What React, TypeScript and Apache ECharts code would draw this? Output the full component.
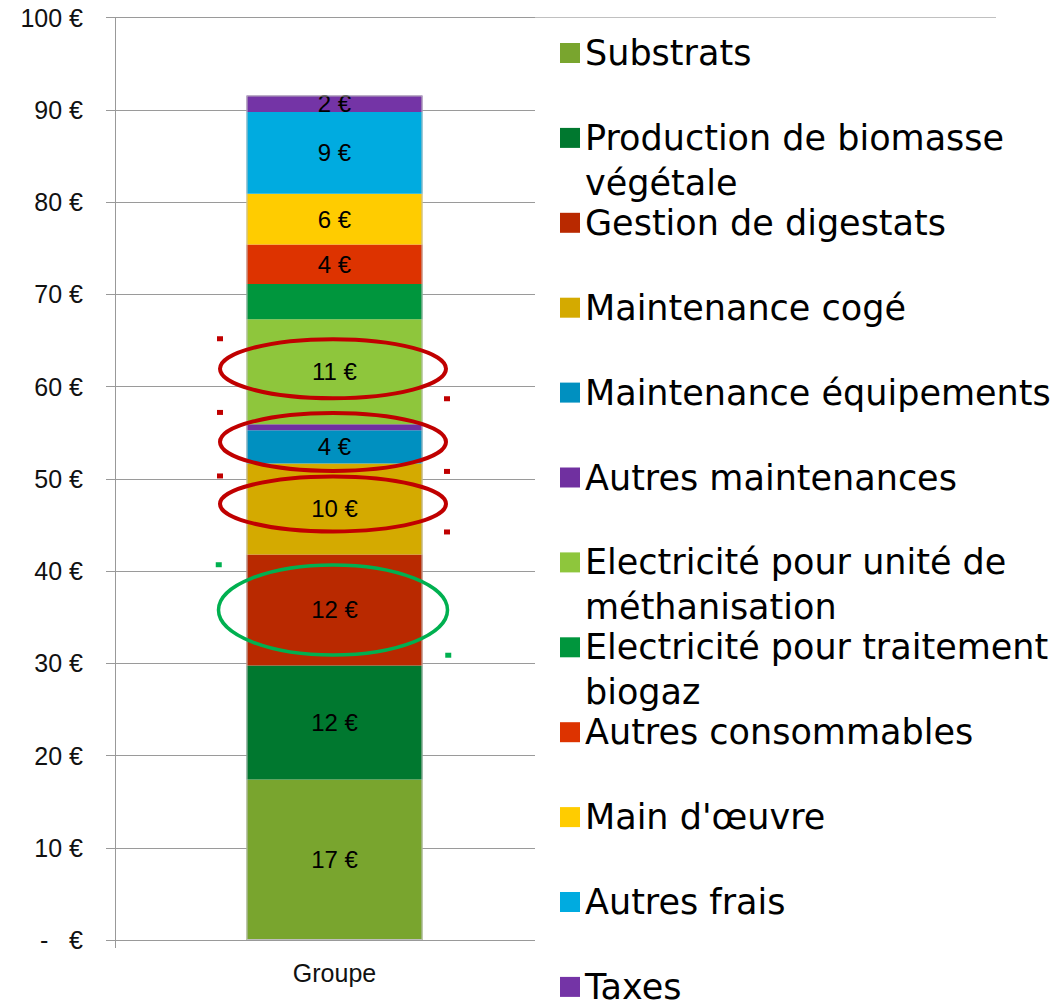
import React, { useEffect, useRef } from 'react';
import * as echarts from 'echarts';

const categories = ['Groupe'];

const seriesNames = [
  'Substrats',
  'Production de biomasse végétale',
  'Gestion de digestats',
  'Maintenance cogé',
  'Maintenance équipements',
  'Autres maintenances',
  'Electricité pour unité de méthanisation',
  'Electricité pour traitement biogaz',
  'Autres consommables',
  "Main d'œuvre",
  'Autres frais',
  'Taxes',
];

const seriesValues = [17.4, 12.35, 12.05, 9.85, 3.6, 0.65, 11.4, 3.8, 4.3, 5.5, 8.85, 1.8];

const showLabel = [true, true, true, true, true, false, true, false, true, true, true, true];

const seriesColors = [
  '#79A52E',
  '#00782F',
  '#B92900',
  '#D4AA00',
  '#0090C0',
  '#7030A0',
  '#8EC63C',
  '#00963D',
  '#DD3300',
  '#FFCC00',
  '#00ABE0',
  '#7434A6',
];

// legend wrapping: first line shown by the legend, second line added as text
const legendFirstLines: Record<string, string> = {
  'Production de biomasse végétale': 'Production de biomasse',
  'Electricité pour unité de méthanisation': 'Electricité pour unité de',
  'Electricité pour traitement biogaz': 'Electricité pour traitement',
};
const legendSecondLines: Record<string, string> = {
  'Production de biomasse végétale': 'végétale',
  'Electricité pour unité de méthanisation': 'méthanisation',
  'Electricité pour traitement biogaz': 'biogaz',
};

const annotations = [
  { target: 'Electricité pour unité de méthanisation', color: '#C00000', rx: 113, ry: 29.5, dy: -3, lw: 4 },
  { target: 'Maintenance équipements', color: '#C00000', rx: 113, ry: 29, dy: -5, lw: 4 },
  { target: 'Maintenance cogé', color: '#C00000', rx: 113, ry: 27.5, dy: -5, lw: 4 },
  { target: 'Gestion de digestats', color: '#00B050', rx: 114.5, ry: 45, dy: 0, lw: 3.5 },
];

const LEG_LEFT = 535;
const LEG_TOP = 18;
const LEG_PAD_TOP = 15;
const LEG_PAD_LEFT = 25;
const LEG_LINE_H = 40;
const LEG_GAP = 44.9;
const LEG_FONT = 35;

export default function App() {
  const ref = useRef<HTMLDivElement>(null);

  useEffect(() => {
    if (!ref.current) return;
    const chart = echarts.init(ref.current, undefined, { renderer: 'svg' });
    const total = seriesValues.reduce((a, b) => a + b, 0);

    const series: any[] = seriesNames.map((name, i) => ({
      name,
      type: 'bar',
      stack: 'total',
      barWidth: 176,
      itemStyle: { color: seriesColors[i] },
      label: {
        show: showLabel[i],
        position: 'inside',
        color: '#000',
        fontSize: 24,
        fontFamily: 'Liberation Sans, Arial, sans-serif',
        formatter: (p: any) => `${Math.round(p.value)} €`,
      },
      data: [seriesValues[i]],
    }));
    series.push({
      name: '__outline',
      type: 'bar',
      barWidth: 176,
      barGap: '-100%',
      silent: true,
      z: 3,
      itemStyle: { color: 'rgba(0,0,0,0)', borderColor: '#bfbfbf', borderWidth: 1 },
      label: { show: false },
      data: [total],
    });

    chart.setOption({
      animation: false,
      grid: { left: 115, right: 503, top: 17.5, bottom: 61, containLabel: false },
      xAxis: {
        type: 'category',
        data: categories,
        axisLine: { show: true, lineStyle: { color: '#999', width: 1 } },
        axisTick: { show: true, length: 8, lineStyle: { color: '#999' } },
        axisLabel: {
          fontSize: 25,
          color: '#111',
          fontFamily: 'Liberation Sans, Arial, sans-serif',
          margin: 20,
        },
      },
      yAxis: {
        type: 'value',
        min: 0,
        max: 100,
        interval: 10,
        axisLine: { show: true, lineStyle: { color: '#999', width: 1 } },
        axisTick: { show: true, length: 9, lineStyle: { color: '#999' } },
        splitLine: { show: true, lineStyle: { color: '#9a9a9a', width: 1 } },
        axisLabel: {
          fontSize: 25,
          color: '#111',
          fontFamily: 'Liberation Sans, Arial, sans-serif',
          margin: 32,
          formatter: (v: number) => (v === 0 ? '-\u00a0\u00a0\u00a0€' : `${v} €`),
        },
      },
      legend: {
        type: 'plain',
        orient: 'vertical',
        left: LEG_LEFT,
        top: LEG_TOP,
        height: 1400,
        padding: [LEG_PAD_TOP, 0, 0, LEG_PAD_LEFT],
        backgroundColor: '#fff',
        itemWidth: 20,
        itemHeight: 20,
        itemGap: LEG_GAP,
        icon: 'rect',
        selectedMode: false,
        data: seriesNames.map((n, i) => ({ name: n, itemStyle: { color: seriesColors[i] } })),
        formatter: (name: string) => legendFirstLines[name] || name,
        textStyle: {
          fontSize: LEG_FONT,
          fontFamily: 'DejaVu Sans, Verdana, sans-serif',
          color: '#000',
          lineHeight: LEG_LINE_H,
        },
      },
      series,
    });

    // Annotations computed from data through the chart's coordinate system
    const cum: number[] = [];
    let acc = 0;
    seriesValues.forEach((v) => {
      cum.push(acc);
      acc += v;
    });
    const graphics: any[] = [];
    annotations.forEach((a) => {
      const idx = seriesNames.indexOf(a.target);
      const mid = cum[idx] + seriesValues[idx] / 2;
      const p = chart.convertToPixel({ xAxisIndex: 0, yAxisIndex: 0 }, [categories[0], mid]) as number[];
      const cx = p[0] - 1.5;
      const cy = p[1] + a.dy;
      graphics.push({
        type: 'ellipse',
        z: 100,
        silent: true,
        shape: { cx, cy, rx: a.rx, ry: a.ry },
        style: { fill: 'none', stroke: a.color, lineWidth: a.lw },
      });
      const left = cx - a.rx - a.lw / 2;
      const top = cy - a.ry - a.lw / 2;
      const right = cx + a.rx + a.lw / 2;
      const bottom = cy + a.ry + a.lw / 2;
      graphics.push({
        type: 'rect',
        z: 100,
        silent: true,
        shape: { x: left - 1, y: top - 1, width: 6, height: 5 },
        style: { fill: a.color },
      });
      graphics.push({
        type: 'rect',
        z: 100,
        silent: true,
        shape: { x: right - 4, y: bottom - 4, width: 6, height: 5 },
        style: { fill: a.color },
      });
    });

    // thin top border line continuing the 100 gridline across the legend
    const top100 = chart.convertToPixel({ yAxisIndex: 0 }, 100) as unknown as number;
    graphics.push({
      type: 'line',
      z: 100,
      silent: true,
      shape: { x1: LEG_LEFT, y1: top100, x2: 996, y2: top100 },
      style: { stroke: '#c0c0c0', lineWidth: 1 },
    });

    // second lines of wrapped legend entries
    seriesNames.forEach((n, i) => {
      const second = legendSecondLines[n];
      if (!second) return;
      const y = LEG_TOP + LEG_PAD_TOP + LEG_LINE_H / 2 + i * (LEG_LINE_H + LEG_GAP) + 45;
      graphics.push({
        type: 'text',
        z: 100,
        silent: true,
        x: LEG_LEFT + LEG_PAD_LEFT + 20 + 5,
        y,
        style: {
          text: second,
          fontSize: LEG_FONT,
          fontFamily: 'DejaVu Sans, Verdana, sans-serif',
          fill: '#000',
          verticalAlign: 'middle',
        },
      });
    });

    chart.setOption({ graphic: graphics });

    return () => chart.dispose();
  }, []);

  return (
    <div
      ref={ref}
      style={{ position: 'fixed', left: 0, top: 0, width: 1057, height: 1001, background: '#fff' }}
    />
  );
}
